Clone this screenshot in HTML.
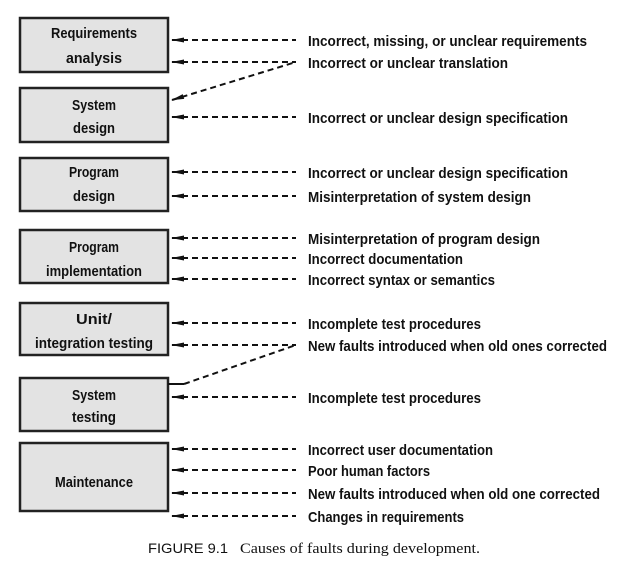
<!DOCTYPE html>
<html><head><style>
html,body{margin:0;padding:0;background:#fff;width:619px;height:578px;overflow:hidden}
svg text{font-family:"Liberation Sans",sans-serif;font-weight:bold;fill:#111}
</style></head><body>
<svg width="619" height="578" xmlns="http://www.w3.org/2000/svg">
<defs><marker id="a" markerWidth="14" markerHeight="8" refX="1" refY="4" orient="auto" markerUnits="userSpaceOnUse"><path d="M13,1.5 L0,4 L13,6.5 Z" fill="#111"/></marker></defs>
<g fill="#e3e3e3" stroke="#222" stroke-width="2.5">
<rect x="20" y="18" width="148" height="54"/>
<rect x="20" y="88" width="148" height="54"/>
<rect x="20" y="158" width="148" height="53"/>
<rect x="20" y="230" width="148" height="53"/>
<rect x="20" y="303" width="148" height="52"/>
<rect x="20" y="378" width="148" height="53"/>
<rect x="20" y="443" width="148" height="68"/>
</g>
<g font-size="15" text-anchor="middle">
<text x="94" y="38" textLength="86" lengthAdjust="spacingAndGlyphs">Requirements</text>
<text x="94" y="63" textLength="56" lengthAdjust="spacingAndGlyphs">analysis</text>
<text x="94" y="110" textLength="44" lengthAdjust="spacingAndGlyphs">System</text>
<text x="94" y="133" textLength="42" lengthAdjust="spacingAndGlyphs">design</text>
<text x="94" y="177" textLength="50" lengthAdjust="spacingAndGlyphs">Program</text>
<text x="94" y="201" textLength="42" lengthAdjust="spacingAndGlyphs">design</text>
<text x="94" y="252" textLength="50" lengthAdjust="spacingAndGlyphs">Program</text>
<text x="94" y="276" textLength="96" lengthAdjust="spacingAndGlyphs">implementation</text>
<text x="94" y="324" textLength="36" lengthAdjust="spacingAndGlyphs">Unit/</text>
<text x="94" y="348" textLength="118" lengthAdjust="spacingAndGlyphs">integration testing</text>
<text x="94" y="400" textLength="44" lengthAdjust="spacingAndGlyphs">System</text>
<text x="94" y="422" textLength="44" lengthAdjust="spacingAndGlyphs">testing</text>
<text x="94" y="487" textLength="78" lengthAdjust="spacingAndGlyphs">Maintenance</text>
</g>
<g stroke="#111" stroke-width="2" stroke-dasharray="6,4" fill="none" marker-start="url(#a)">
<line x1="172" y1="40" x2="296" y2="40"/>
<line x1="172" y1="62" x2="296" y2="62"/>
<line x1="172" y1="100" x2="296" y2="62"/>
<line x1="172" y1="117" x2="296" y2="117"/>
<line x1="172" y1="172" x2="296" y2="172"/>
<line x1="172" y1="196" x2="296" y2="196"/>
<line x1="172" y1="238" x2="296" y2="238"/>
<line x1="172" y1="258" x2="296" y2="258"/>
<line x1="172" y1="279" x2="296" y2="279"/>
<line x1="172" y1="323" x2="296" y2="323"/>
<line x1="172" y1="345" x2="296" y2="345"/>
<line x1="172" y1="397" x2="296" y2="397"/>
<line x1="172" y1="449" x2="296" y2="449"/>
<line x1="172" y1="470" x2="296" y2="470"/>
<line x1="172" y1="493" x2="296" y2="493"/>
<line x1="172" y1="516" x2="296" y2="516"/>
</g>
<path d="M168,384 L184,384" stroke="#111" stroke-width="2"/>
<path d="M184,384 L296,345" stroke="#111" stroke-width="2" stroke-dasharray="6,4"/>
<g font-size="15">
<text x="308" y="46" textLength="279" lengthAdjust="spacingAndGlyphs">Incorrect, missing, or unclear requirements</text>
<text x="308" y="68" textLength="200" lengthAdjust="spacingAndGlyphs">Incorrect or unclear translation</text>
<text x="308" y="123" textLength="260" lengthAdjust="spacingAndGlyphs">Incorrect or unclear design specification</text>
<text x="308" y="178" textLength="260" lengthAdjust="spacingAndGlyphs">Incorrect or unclear design specification</text>
<text x="308" y="202" textLength="223" lengthAdjust="spacingAndGlyphs">Misinterpretation of system design</text>
<text x="308" y="244" textLength="232" lengthAdjust="spacingAndGlyphs">Misinterpretation of program design</text>
<text x="308" y="264" textLength="155" lengthAdjust="spacingAndGlyphs">Incorrect documentation</text>
<text x="308" y="285" textLength="187" lengthAdjust="spacingAndGlyphs">Incorrect syntax or semantics</text>
<text x="308" y="329" textLength="173" lengthAdjust="spacingAndGlyphs">Incomplete test procedures</text>
<text x="308" y="351" textLength="299" lengthAdjust="spacingAndGlyphs">New faults introduced when old ones corrected</text>
<text x="308" y="403" textLength="173" lengthAdjust="spacingAndGlyphs">Incomplete test procedures</text>
<text x="308" y="455" textLength="185" lengthAdjust="spacingAndGlyphs">Incorrect user documentation</text>
<text x="308" y="476" textLength="122" lengthAdjust="spacingAndGlyphs">Poor human factors</text>
<text x="308" y="499" textLength="292" lengthAdjust="spacingAndGlyphs">New faults introduced when old one corrected</text>
<text x="308" y="522" textLength="156" lengthAdjust="spacingAndGlyphs">Changes in requirements</text>
</g>
<text x="148" y="553" font-size="14" style="font-weight:normal" textLength="80" lengthAdjust="spacingAndGlyphs">FIGURE 9.1</text>
<text x="240" y="553" font-size="15" style="font-weight:normal;font-family:'Liberation Serif',serif" textLength="240" lengthAdjust="spacingAndGlyphs">Causes of faults during development.</text>
</svg>
</body></html>
